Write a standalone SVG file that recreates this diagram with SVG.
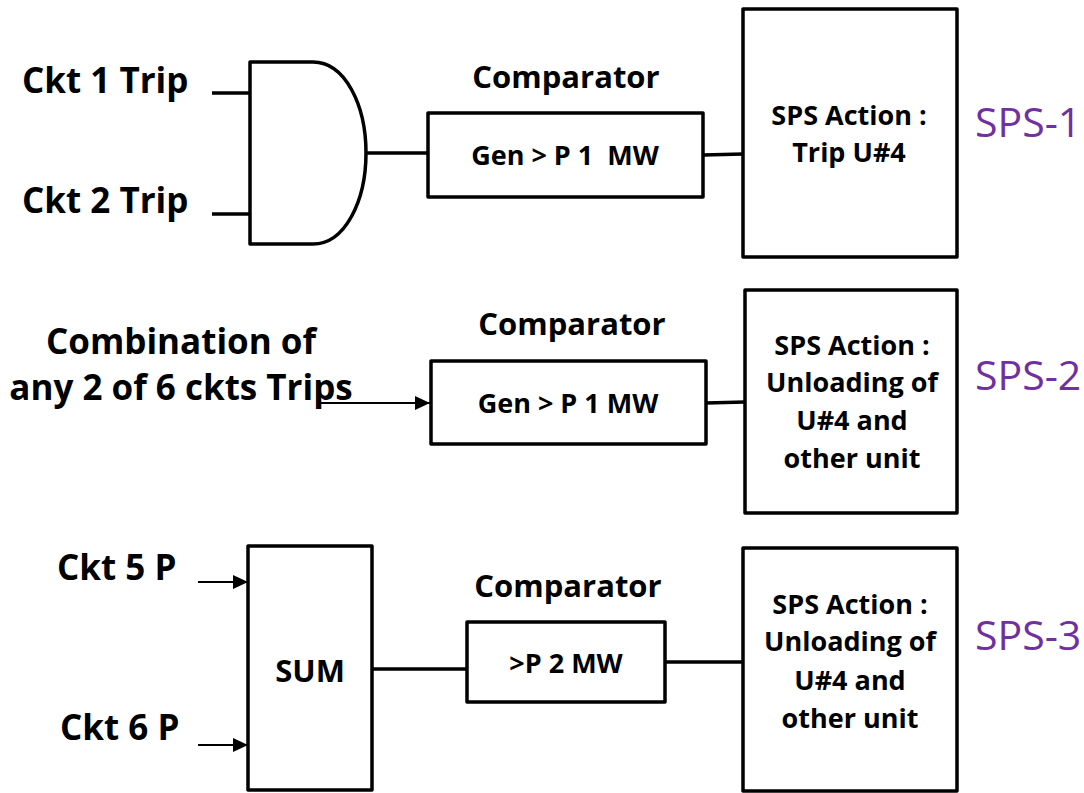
<svg xmlns="http://www.w3.org/2000/svg" width="1084" height="793" viewBox="0 0 1084 793">
  <style>
    .box { fill: #fff; stroke: #000; stroke-width: 3.5; stroke-linejoin: round; }
    .wire { fill: none; stroke: #000; stroke-width: 3.5; }
    .thin { fill: none; stroke: #000; stroke-width: 2; }
    .lbl { font-family: "Open Sans", "Liberation Sans", sans-serif; font-weight: bold; fill: #000; }
    .big { font-size: 35px; }
    .cmp { font-size: 31px; }
    .in { font-size: 27px; text-anchor: middle; }
    .tag { font-family: "Open Sans", "Liberation Sans", sans-serif; font-size: 41px; fill: #7030A0; }
  </style>
  <defs>
    <marker id="arrow" markerWidth="16" markerHeight="14" refX="15" refY="7" orient="auto" markerUnits="userSpaceOnUse">
      <path d="M0,0 L15,7 L0,14 Z" fill="#000"/>
    </marker>
  </defs>

  <rect width="1084" height="793" fill="#fff"/>

  <!-- connectors -->
  <g id="connectors">
    <!-- SPS-1 -->
    <line class="wire" x1="212" y1="93" x2="250" y2="93"/>
    <line class="wire" x1="212" y1="214" x2="250" y2="214"/>
    <line class="wire" x1="366" y1="153" x2="428" y2="153"/>
    <line class="wire" x1="703" y1="155" x2="743" y2="154"/>
    <!-- SPS-2 -->
    <line class="thin" x1="320" y1="403" x2="430" y2="403" marker-end="url(#arrow)"/>
    <line class="wire" x1="706" y1="403" x2="745" y2="402"/>
    <!-- SPS-3 -->
    <line class="thin" x1="198" y1="582" x2="248" y2="582" marker-end="url(#arrow)"/>
    <line class="thin" x1="198" y1="745" x2="248" y2="745" marker-end="url(#arrow)"/>
    <line class="wire" x1="372" y1="669" x2="467" y2="669"/>
    <line class="wire" x1="665" y1="662" x2="743" y2="662"/>
  </g>

  <!-- SPS-1 scheme -->
  <g id="inputs-1">
    <text class="lbl big" x="22" y="93">Ckt 1 Trip</text>
    <text class="lbl big" x="22" y="213">Ckt 2 Trip</text>
  </g>
  <g id="and-gate">
    <path class="box" d="M250,62 H313 C345,62 366,105 366,153 C366,201 345,244 313,244 H250 Z"/>
  </g>
  <g id="comparator-1">
    <text class="lbl cmp" x="566" y="88" text-anchor="middle">Comparator</text>
    <rect class="box" x="428" y="113" width="275" height="84"/>
    <text class="lbl in" x="565" y="165" xml:space="preserve">Gen &gt; P 1  MW</text>
  </g>
  <g id="action-1">
    <rect class="box" x="743" y="9" width="214" height="248"/>
    <text class="lbl in" x="849" y="125">SPS Action :</text>
    <text class="lbl in" x="849" y="162">Trip U#4</text>
  </g>
  <text class="tag" x="975" y="137">SPS-1</text>

  <!-- SPS-2 scheme -->
  <g id="inputs-2">
    <text class="lbl big" x="181" y="354" text-anchor="middle">Combination of</text>
    <text class="lbl big" x="181" y="400" text-anchor="middle">any 2 of 6 ckts Trips</text>
  </g>
  <g id="comparator-2">
    <text class="lbl cmp" x="572" y="335" text-anchor="middle">Comparator</text>
    <rect class="box" x="431" y="361" width="275" height="83"/>
    <text class="lbl in" x="568" y="413">Gen &gt; P 1 MW</text>
  </g>
  <g id="action-2">
    <rect class="box" x="745" y="290" width="212" height="223"/>
    <text class="lbl in" x="852" y="355">SPS Action :</text>
    <text class="lbl in" x="852" y="392">Unloading of</text>
    <text class="lbl in" x="852" y="430">U#4 and</text>
    <text class="lbl in" x="852" y="468">other unit</text>
  </g>
  <text class="tag" x="975" y="390">SPS-2</text>

  <!-- SPS-3 scheme -->
  <g id="inputs-3">
    <text class="lbl big" x="57" y="580">Ckt 5 P</text>
    <text class="lbl big" x="60" y="740">Ckt 6 P</text>
  </g>
  <g id="sum">
    <rect class="box" x="248" y="546" width="124" height="244"/>
    <text class="lbl cmp" x="310" y="682" text-anchor="middle">SUM</text>
  </g>
  <g id="comparator-3">
    <text class="lbl cmp" x="568" y="597" text-anchor="middle">Comparator</text>
    <rect class="box" x="467" y="622" width="198" height="80"/>
    <text class="lbl in" x="566" y="673">&gt;P 2 MW</text>
  </g>
  <g id="action-3">
    <rect class="box" x="743" y="548" width="214" height="243"/>
    <text class="lbl in" x="850" y="614">SPS Action :</text>
    <text class="lbl in" x="850" y="651">Unloading of</text>
    <text class="lbl in" x="850" y="690">U#4 and</text>
    <text class="lbl in" x="850" y="728">other unit</text>
  </g>
  <text class="tag" x="975" y="650">SPS-3</text>
</svg>
